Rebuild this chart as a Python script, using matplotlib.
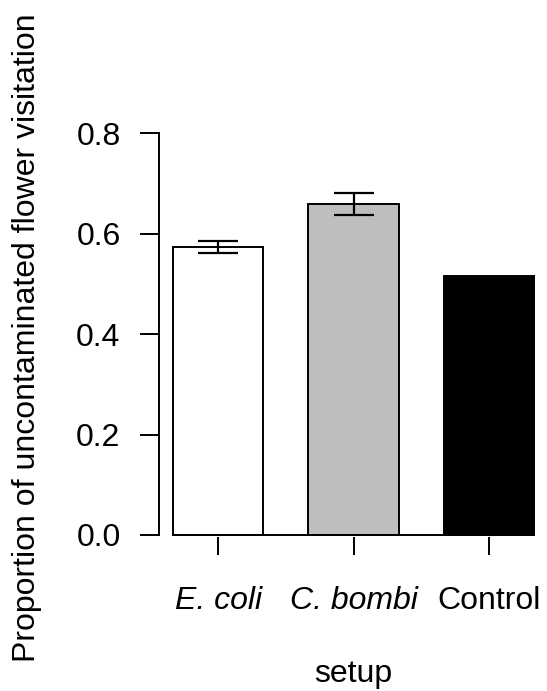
import numpy as np
import matplotlib
matplotlib.use('Agg')
import matplotlib.pyplot as plt

# data
groups = ['E. coli', 'C. bombi', 'Control']
italic = [True, True, False]
means = [0.574, 0.659, 0.516]
errs = [0.0125, 0.022]          # Control has no error bar
colors = ['white', '#bebebe', 'black']
yticks = [0.0, 0.2, 0.4, 0.6, 0.8]

plt.rcParams['font.family'] = ['Liberation Sans', 'DejaVu Sans']

fig = plt.figure(figsize=(5.47, 6.91), dpi=100)
# R-style barplot layout: width 1, space 0.5
ax = fig.add_axes([159/547, 1-537/691, 389/547, 413.6/691])

x = np.array([1.0, 2.5, 4.0])
ax.bar(x, means, width=1.0, color=colors, edgecolor='black', linewidth=1.4)
ax.plot([x[0]-0.5, x[-1]+0.5], [0, 0], color='black', linewidth=1.4)
ax.errorbar(x[:2], means[:2], yerr=errs, fmt='none', ecolor='black',
            elinewidth=1.6, capsize=14.4, capthick=1.6)

ax.set_xlim(0.34, 4.66)
ax.set_ylim(-0.004, 0.82)

for s in ['top', 'right', 'bottom']:
    ax.spines[s].set_visible(False)
ax.spines['left'].set_bounds(0, 0.8)
ax.spines['left'].set_linewidth(1.4)

ax.set_yticks(yticks)
ax.set_yticklabels(['%.1f' % v for v in yticks])
ax.tick_params(axis='y', length=13.7, width=1.4, pad=14, labelsize=23)

ax.set_xticks(x)
ax.set_xticklabels(groups)
ax.tick_params(axis='x', length=13, width=1.4, pad=22, labelsize=23)
for lab, it in zip(ax.get_xticklabels(), italic):
    if it:
        lab.set_fontstyle('italic')

fig.text(353.5/547, 1-674/691, 'setup', ha='center', va='center', fontsize=23)
fig.text(27/547, 1-338/691, 'Proportion of uncontaminated flower visitation',
         ha='center', va='center', rotation=90, fontsize=23)

fig.savefig('out.png', dpi=100)
